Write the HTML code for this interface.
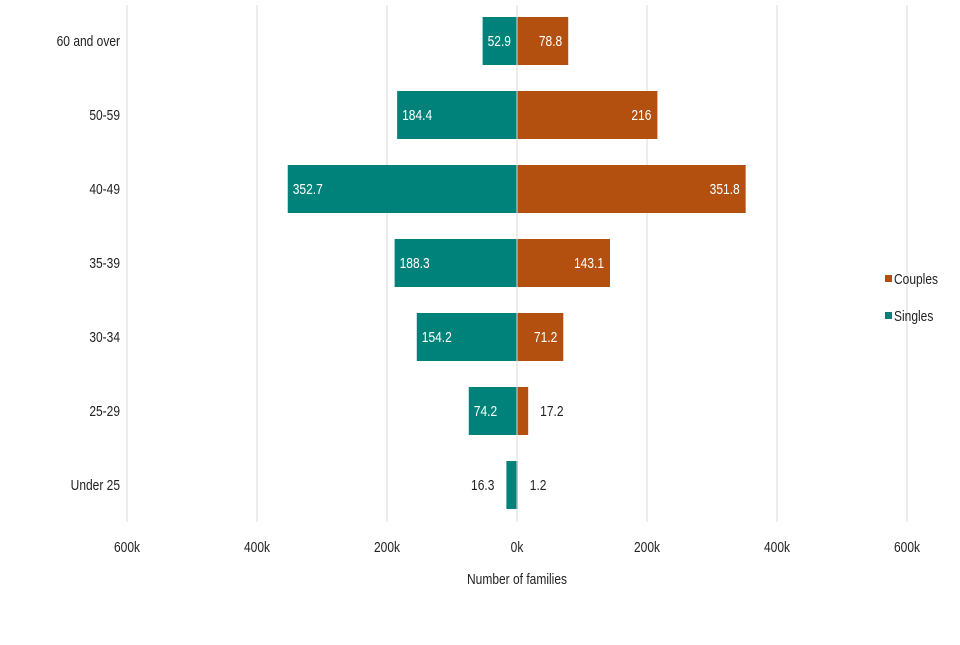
<!DOCTYPE html>
<html><head><meta charset="utf-8"><style>
body{margin:0;background:#fff;}
svg text{font-family:"Liberation Sans",Arial,sans-serif;font-size:15px;fill:#222;}
</style></head><body>
<svg id="chart" width="960" height="640" xmlns="http://www.w3.org/2000/svg"></svg>
<script>
const categories=["60 and over","50-59","40-49","35-39","30-34","25-29","Under 25"];
const singles=[52.9,184.4,352.7,188.3,154.2,74.2,16.3];
const couples=[78.8,216,351.8,143.1,71.2,17.2,1.2];
const tickValues=[-600,-400,-200,0,200,400,600];
const tickLabels=["600k","400k","200k","0k","200k","400k","600k"];
const NS="http://www.w3.org/2000/svg";
const svg=document.getElementById('chart');
const x0=517,scale=130/200;
const xs=v=>x0+v*scale;
const ys=i=>41+i*74;
const barH=48;
const SX=0.8;
function mk(t,a,txt){const e=document.createElementNS(NS,t);for(const k in a)e.setAttribute(k,a[k]);if(txt!==undefined)e.textContent=txt;svg.appendChild(e);return e;}
function tx(x,y,anchor,s,style){return mk('text',{x:0,y:0,'text-anchor':anchor,transform:`translate(${x},${y}) scale(${SX},1)`,style:style||''},s);}
tickValues.forEach((v,i)=>{
  const g=mk('line',{x1:xs(v),x2:xs(v),y1:5,y2:522,stroke:'#d9d9d9','stroke-width':1});
  
  
  const t=tx(xs(v),552,'middle',tickLabels[i]);
  
  
});
categories.forEach((c,i)=>{
  const y=ys(i);
  const t=tx(120,y+5,'end',c);
  
  
  const s=singles[i],w=s*scale;
  const b=mk('rect',{x:x0-w,y:y-barH/2,width:w,height:barH,fill:'#00827a'});
  
  
  const inS=s>=50;
  const ls=tx(inS?x0-w+5:x0-w-12,y+5,inS?'start':'end',String(s),inS?'fill:#fff':'');
  
  
  const cv=couples[i],cw=cv*scale;
  const cb=mk('rect',{x:x0,y:y-barH/2,width:cw,height:barH,fill:'#b35010'});
  
  
  const inC=cv>=50;
  const lc=tx(inC?x0+cw-6:x0+cw+12,y+5,inC?'end':'start',String(cv),inC?'fill:#fff':'');
  
  
});
const ax=mk('line',{x1:x0,x2:x0,y1:5,y2:522,stroke:'#d9d9d9','stroke-width':1});


const title=tx(x0,584,'middle','Number of families');


const l1=mk('rect',{x:885,y:275,width:7,height:7,fill:'#b35010'});


const lt1=tx(894,284,'start','Couples');


const l2=mk('rect',{x:885,y:312,width:7,height:7,fill:'#00827a'});


const lt2=tx(894,321,'start','Singles');


</script>
</body></html>
